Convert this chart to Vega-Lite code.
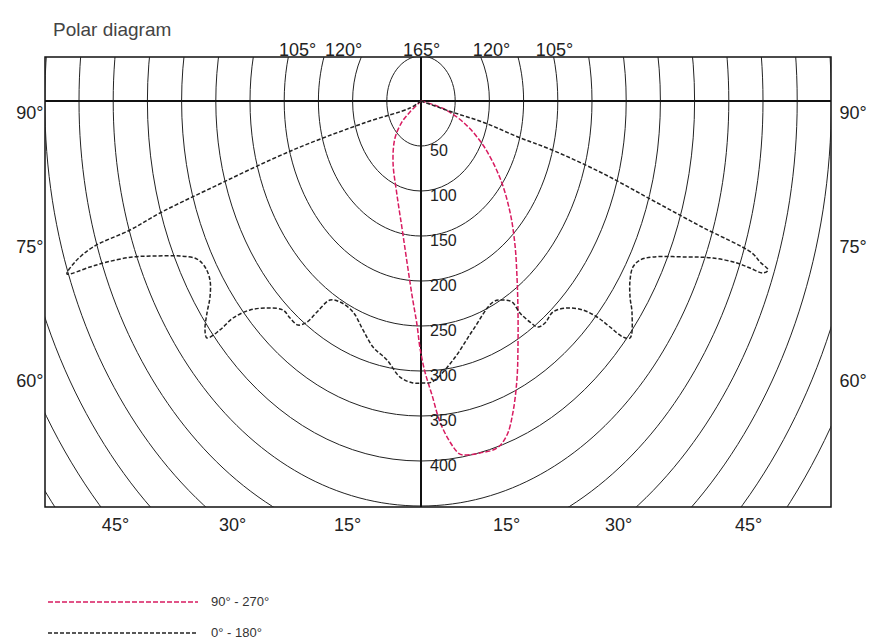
{
  "$schema": "https://vega.github.io/schema/vega-lite/v6.json",
  "width": 786,
  "height": 450,
  "autosize": {"type": "none"},
  "padding": {"left": 45, "top": 57, "right": 40, "bottom": 134},
  "background": "white",
  "config": {
    "view": {"stroke": "#111", "strokeWidth": 1.5},
    "font": "Liberation Sans",
    "axis": {"domain": false, "ticks": false, "grid": false, "labelFontSize": 18, "labelColor": "#222", "labelFont": "Liberation Sans", "labelFlush": false, "labelOverlap": false}
  },
  "title": {"text": "Polar diagram", "anchor": "start", "frame": "group", "orient": "top", "offset": -18, "fontSize": 19, "fontWeight": "normal", "color": "#444", "font": "Liberation Sans", "dx": 8, "baseline": "bottom"},
  "datasets": {
    "rings": [{"r": 50}, {"r": 100}, {"r": 150}, {"r": 200}, {"r": 250}, {"r": 300}, {"r": 350}, {"r": 400}, {"r": 450}, {"r": 500}, {"r": 550}, {"r": 600}, {"r": 650}, {"r": 700}],
    "origin": [{"o": 0}],
    "curves": [
      {"series": "90° - 270°", "i": 0, "x": 0, "y": 0},
      {"series": "90° - 270°", "i": 1, "x": 30.7, "y": 7.8},
      {"series": "90° - 270°", "i": 2, "x": 61.4, "y": 23.3},
      {"series": "90° - 270°", "i": 3, "x": 90.6, "y": 48.9},
      {"series": "90° - 270°", "i": 4, "x": 115.5, "y": 85.6},
      {"series": "90° - 270°", "i": 5, "x": 130.1, "y": 123.3},
      {"series": "90° - 270°", "i": 6, "x": 137.4, "y": 160},
      {"series": "90° - 270°", "i": 7, "x": 140.4, "y": 196.7},
      {"series": "90° - 270°", "i": 8, "x": 141.8, "y": 234.4},
      {"series": "90° - 270°", "i": 9, "x": 141.8, "y": 271.1},
      {"series": "90° - 270°", "i": 10, "x": 140.4, "y": 307.8},
      {"series": "90° - 270°", "i": 11, "x": 134.5, "y": 345.6},
      {"series": "90° - 270°", "i": 12, "x": 125.7, "y": 371.1},
      {"series": "90° - 270°", "i": 13, "x": 111.1, "y": 385.6},
      {"series": "90° - 270°", "i": 14, "x": 86.3, "y": 391.1},
      {"series": "90° - 270°", "i": 15, "x": 61.4, "y": 393.3},
      {"series": "90° - 270°", "i": 16, "x": 55, "y": 391.5},
      {"series": "90° - 270°", "i": 17, "x": 42.4, "y": 378.9},
      {"series": "90° - 270°", "i": 18, "x": 27.8, "y": 356.7},
      {"series": "90° - 270°", "i": 19, "x": 16.1, "y": 326.7},
      {"series": "90° - 270°", "i": 20, "x": 5.8, "y": 301.1},
      {"series": "90° - 270°", "i": 21, "x": -1.5, "y": 274.4},
      {"series": "90° - 270°", "i": 22, "x": -5.8, "y": 248.9},
      {"series": "90° - 270°", "i": 23, "x": -13.2, "y": 215.6},
      {"series": "90° - 270°", "i": 24, "x": -20.5, "y": 178.9},
      {"series": "90° - 270°", "i": 25, "x": -27.8, "y": 141.1},
      {"series": "90° - 270°", "i": 26, "x": -35.1, "y": 104.4},
      {"series": "90° - 270°", "i": 27, "x": -40.9, "y": 67.8},
      {"series": "90° - 270°", "i": 28, "x": -38, "y": 41.1},
      {"series": "90° - 270°", "i": 29, "x": -27.8, "y": 23.3},
      {"series": "90° - 270°", "i": 30, "x": -16.1, "y": 12.2},
      {"series": "90° - 270°", "i": 31, "x": 0, "y": 0},
      {"series": "0° - 180°", "i": 0, "x": 0, "y": 0},
      {"series": "0° - 180°", "i": 1, "x": -16.1, "y": 7.8},
      {"series": "0° - 180°", "i": 2, "x": -78.9, "y": 23.3},
      {"series": "0° - 180°", "i": 3, "x": -187.1, "y": 54.4},
      {"series": "0° - 180°", "i": 4, "x": -312.9, "y": 98.9},
      {"series": "0° - 180°", "i": 5, "x": -381.6, "y": 124.4},
      {"series": "0° - 180°", "i": 6, "x": -425.4, "y": 143.3},
      {"series": "0° - 180°", "i": 7, "x": -479.5, "y": 162.2},
      {"series": "0° - 180°", "i": 8, "x": -505.8, "y": 178.9},
      {"series": "0° - 180°", "i": 9, "x": -517.5, "y": 192.2},
      {"series": "0° - 180°", "i": 10, "x": -483.9, "y": 184.4},
      {"series": "0° - 180°", "i": 11, "x": -459.1, "y": 178.9},
      {"series": "0° - 180°", "i": 12, "x": -421.1, "y": 173.3},
      {"series": "0° - 180°", "i": 13, "x": -386, "y": 172.2},
      {"series": "0° - 180°", "i": 14, "x": -352.3, "y": 172.2},
      {"series": "0° - 180°", "i": 15, "x": -327.5, "y": 175.6},
      {"series": "0° - 180°", "i": 16, "x": -315.8, "y": 184.4},
      {"series": "0° - 180°", "i": 17, "x": -308.5, "y": 198.9},
      {"series": "0° - 180°", "i": 18, "x": -308.5, "y": 217.8},
      {"series": "0° - 180°", "i": 19, "x": -312.9, "y": 235.6},
      {"series": "0° - 180°", "i": 20, "x": -315.8, "y": 254.4},
      {"series": "0° - 180°", "i": 21, "x": -312.9, "y": 263.3},
      {"series": "0° - 180°", "i": 22, "x": -293.9, "y": 254.4},
      {"series": "0° - 180°", "i": 23, "x": -274.9, "y": 241.1},
      {"series": "0° - 180°", "i": 24, "x": -250, "y": 232.2},
      {"series": "0° - 180°", "i": 25, "x": -225.1, "y": 230},
      {"series": "0° - 180°", "i": 26, "x": -201.8, "y": 232.2},
      {"series": "0° - 180°", "i": 27, "x": -191.5, "y": 241.1},
      {"series": "0° - 180°", "i": 28, "x": -179.8, "y": 248.9},
      {"series": "0° - 180°", "i": 29, "x": -166.7, "y": 245.6},
      {"series": "0° - 180°", "i": 30, "x": -152, "y": 234.4},
      {"series": "0° - 180°", "i": 31, "x": -133, "y": 221.1},
      {"series": "0° - 180°", "i": 32, "x": -118.4, "y": 223.3},
      {"series": "0° - 180°", "i": 33, "x": -99.4, "y": 234.4},
      {"series": "0° - 180°", "i": 34, "x": -84.8, "y": 254.4},
      {"series": "0° - 180°", "i": 35, "x": -70.2, "y": 273.3},
      {"series": "0° - 180°", "i": 36, "x": -49.7, "y": 287.8},
      {"series": "0° - 180°", "i": 37, "x": -30.7, "y": 306.7},
      {"series": "0° - 180°", "i": 38, "x": -11.7, "y": 313.3},
      {"series": "0° - 180°", "i": 39, "x": 1.5, "y": 313.3},
      {"series": "0° - 180°", "i": 40, "x": 16.1, "y": 312.2},
      {"series": "0° - 180°", "i": 41, "x": 46.8, "y": 287.8},
      {"series": "0° - 180°", "i": 42, "x": 76, "y": 254.4},
      {"series": "0° - 180°", "i": 43, "x": 105.3, "y": 223.3},
      {"series": "0° - 180°", "i": 44, "x": 119.9, "y": 221.1},
      {"series": "0° - 180°", "i": 45, "x": 133, "y": 223.3},
      {"series": "0° - 180°", "i": 46, "x": 144.7, "y": 235.6},
      {"series": "0° - 180°", "i": 47, "x": 159.4, "y": 245.6},
      {"series": "0° - 180°", "i": 48, "x": 171.1, "y": 251.1},
      {"series": "0° - 180°", "i": 49, "x": 181.3, "y": 246.7},
      {"series": "0° - 180°", "i": 50, "x": 193, "y": 234.4},
      {"series": "0° - 180°", "i": 51, "x": 213.5, "y": 230},
      {"series": "0° - 180°", "i": 52, "x": 236.8, "y": 232.2},
      {"series": "0° - 180°", "i": 53, "x": 257.3, "y": 240},
      {"series": "0° - 180°", "i": 54, "x": 276.3, "y": 251.1},
      {"series": "0° - 180°", "i": 55, "x": 295.3, "y": 262.2},
      {"series": "0° - 180°", "i": 56, "x": 305.6, "y": 263.3},
      {"series": "0° - 180°", "i": 57, "x": 308.5, "y": 235.6},
      {"series": "0° - 180°", "i": 58, "x": 305.6, "y": 217.8},
      {"series": "0° - 180°", "i": 59, "x": 305.6, "y": 198.9},
      {"series": "0° - 180°", "i": 60, "x": 309.9, "y": 184.4},
      {"series": "0° - 180°", "i": 61, "x": 320.2, "y": 176.7},
      {"series": "0° - 180°", "i": 62, "x": 339.2, "y": 173.3},
      {"series": "0° - 180°", "i": 63, "x": 388.9, "y": 173.3},
      {"series": "0° - 180°", "i": 64, "x": 426.9, "y": 174.4},
      {"series": "0° - 180°", "i": 65, "x": 462, "y": 180},
      {"series": "0° - 180°", "i": 66, "x": 481, "y": 185.6},
      {"series": "0° - 180°", "i": 67, "x": 500, "y": 191.1},
      {"series": "0° - 180°", "i": 68, "x": 507.3, "y": 187.8},
      {"series": "0° - 180°", "i": 69, "x": 495.6, "y": 178.9},
      {"series": "0° - 180°", "i": 70, "x": 483.9, "y": 168.9},
      {"series": "0° - 180°", "i": 71, "x": 410.8, "y": 140},
      {"series": "0° - 180°", "i": 72, "x": 337.7, "y": 110},
      {"series": "0° - 180°", "i": 73, "x": 264.6, "y": 80},
      {"series": "0° - 180°", "i": 74, "x": 191.5, "y": 54.4},
      {"series": "0° - 180°", "i": 75, "x": 141.8, "y": 40},
      {"series": "0° - 180°", "i": 76, "x": 93.6, "y": 24.4},
      {"series": "0° - 180°", "i": 77, "x": 45.3, "y": 12.2},
      {"series": "0° - 180°", "i": 78, "x": 0, "y": 0}
    ]
  },
  "resolve": {"axis": {"x": "independent", "y": "independent"}},
  "layer": [
    {
      "data": {"name": "rings"},
      "mark": {"type": "point", "shape": "M -0.76 0 A 0.76 1 0 1 0 0.76 0 A 0.76 1 0 1 0 -0.76 0 Z", "filled": false, "stroke": "#222", "strokeWidth": 1, "opacity": 1, "clip": true},
      "encoding": {
        "x": {"datum": 0, "type": "quantitative", "scale": {"domain": [-549.7, 599.4], "nice": false, "zero": false},
              "axis": {"orient": "bottom", "title": null, "values": [-447.4, -276.3, -108.2, 124.3, 288, 478.1], "labelExpr": "abs(datum.value) > 400 ? '45°' : abs(datum.value) > 200 ? '30°' : '15°'", "labelPadding": 9}},
        "y": {"datum": 0, "type": "quantitative", "scale": {"domain": [-48.9, 451.1], "nice": false, "zero": false, "reverse": true},
              "axis": {"orient": "left", "title": null, "values": [14.4, 163.3, 312.2], "labelExpr": "datum.value < 50 ? '90°' : datum.value < 200 ? '75°' : '60°'", "labelPadding": 2}},
        "size": {"field": "r", "type": "quantitative", "scale": {"type": "pow", "exponent": 2, "domain": [0, 700], "range": [0, 1587600]}, "legend": null}
      }
    },
    {
      "data": {"name": "origin"},
      "mark": {"type": "rule", "color": "#111", "strokeWidth": 2},
      "encoding": {"y": {"datum": 0, "type": "quantitative", "axis": null}}
    },
    {
      "data": {"name": "origin"},
      "mark": {"type": "rule", "color": "#111", "strokeWidth": 2},
      "encoding": {"x": {"datum": 0, "type": "quantitative", "axis": null}}
    },
    {
      "data": {"name": "curves"},
      "mark": {"type": "line", "interpolate": "catmull-rom", "strokeWidth": 1.5, "clip": true},
      "encoding": {
        "x": {"field": "x", "type": "quantitative",
              "axis": {"orient": "top", "title": null, "values": [-181.3, -114, 0, 102.3, 194.4], "labelExpr": "datum.value < -150 ? '105°' : datum.value < -50 ? '120°' : datum.value < 50 ? '165°' : datum.value < 150 ? '120°' : '105°'", "labelPadding": -2}},
        "y": {"field": "y", "type": "quantitative",
              "axis": {"orient": "right", "title": null, "values": [14.4, 163.3, 312.2], "labelExpr": "datum.value < 50 ? '90°' : datum.value < 200 ? '75°' : '60°'", "labelPadding": 8}},
        "order": {"field": "i", "type": "quantitative"},
        "color": {"field": "series", "type": "nominal",
                  "scale": {"domain": ["90° - 270°", "0° - 180°"], "range": ["#d81b60", "#222222"]},
                  "legend": {"orient": "none", "legendX": 2, "legendY": 537, "title": null, "symbolType": "stroke", "symbolSize": 22500, "symbolStrokeWidth": 1.5, "clipHeight": 16, "rowPadding": 15, "labelFontSize": 13, "labelOffset": 12, "labelFont": "Liberation Sans", "labelColor": "#333", "padding": 0}},
        "strokeDash": {"field": "series", "type": "nominal",
                  "scale": {"domain": ["90° - 270°", "0° - 180°"], "range": [[5, 2], [4, 2]]},
                  "legend": {"orient": "none", "legendX": 2, "legendY": 537, "title": null, "symbolType": "stroke", "symbolSize": 22500, "symbolStrokeWidth": 1.5, "clipHeight": 16, "rowPadding": 15, "labelFontSize": 13, "labelOffset": 12, "labelFont": "Liberation Sans", "labelColor": "#333", "padding": 0}}
      }
    },
    {
      "data": {"name": "rings"},
      "transform": [{"filter": "datum.r <= 400"}],
      "mark": {"type": "text", "align": "left", "baseline": "middle", "dx": 9, "dy": 5, "fontSize": 16, "color": "#222"},
      "encoding": {
        "x": {"datum": 0, "type": "quantitative", "axis": null},
        "y": {"field": "r", "type": "quantitative", "axis": null},
        "text": {"field": "r", "type": "quantitative"}
      }
    }
  ]
}
